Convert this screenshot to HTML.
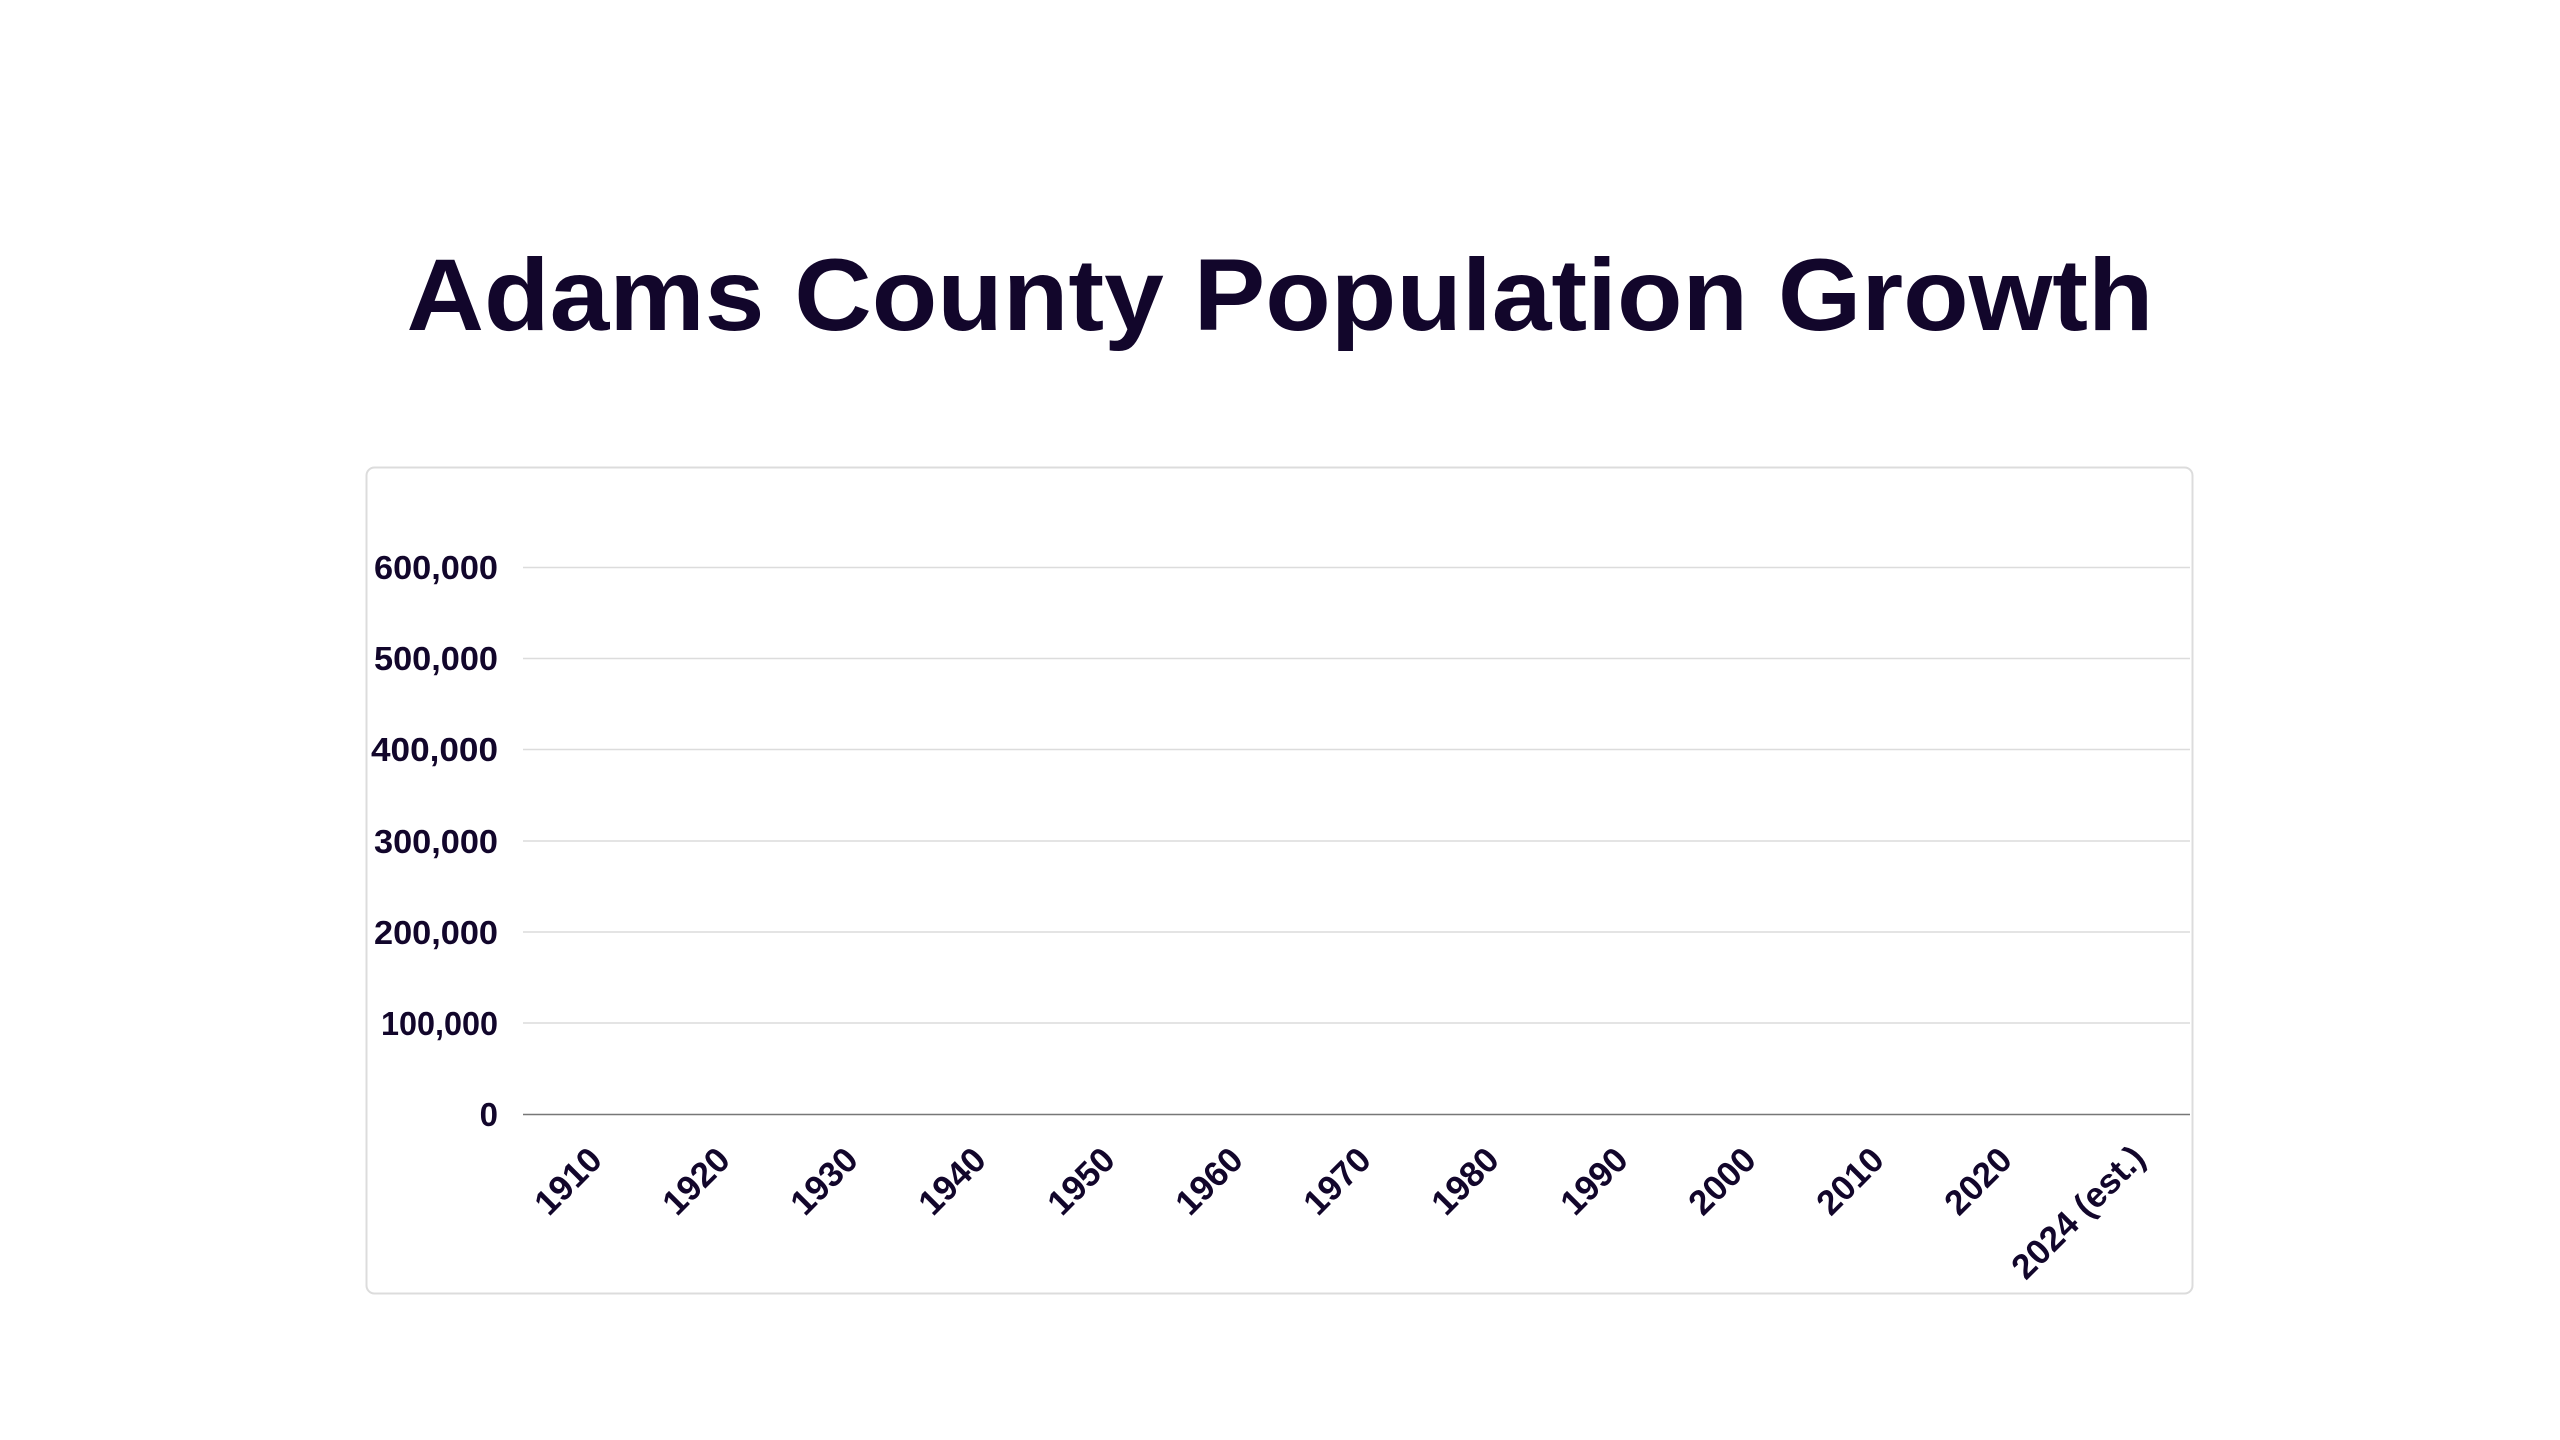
<!DOCTYPE html>
<html><head><meta charset="utf-8"><style>
html,body{margin:0;padding:0;background:#fff;}
svg{display:block;}
</style></head><body>
<svg width="2560" height="1440" viewBox="0 0 2560 1440" xmlns="http://www.w3.org/2000/svg">
<rect width="2560" height="1440" fill="#fff"/>
<text x="1280" y="330" text-anchor="middle" font-family="Liberation Sans, sans-serif" font-weight="bold" font-size="102" fill="#12062b" textLength="1747" lengthAdjust="spacingAndGlyphs">Adams County Population Growth</text>
<rect x="366.5" y="467.5" width="1826" height="826" rx="8" ry="8" fill="#fff" stroke="#dcdcdc" stroke-width="2"/>
<g stroke="#dcdcdc" stroke-width="1.5">
<line x1="523" x2="2190" y1="567.5" y2="567.5"/>
<line x1="523" x2="2190" y1="658.5" y2="658.5"/>
<line x1="523" x2="2190" y1="749.5" y2="749.5"/>
<line x1="523" x2="2190" y1="841" y2="841"/>
<line x1="523" x2="2190" y1="932" y2="932"/>
<line x1="523" x2="2190" y1="1023" y2="1023"/>
</g>
<line x1="523" x2="2190" y1="1114.5" y2="1114.5" stroke="#777" stroke-width="1.5"/>
<g font-family="Liberation Sans, sans-serif" font-weight="bold" font-size="33" fill="#12062b" text-anchor="end">
<text x="498" y="579" textLength="124" lengthAdjust="spacingAndGlyphs">600,000</text>
<text x="498" y="670" textLength="124" lengthAdjust="spacingAndGlyphs">500,000</text>
<text x="498" y="761" textLength="127" lengthAdjust="spacingAndGlyphs">400,000</text>
<text x="498" y="853" textLength="124" lengthAdjust="spacingAndGlyphs">300,000</text>
<text x="498" y="944" textLength="124" lengthAdjust="spacingAndGlyphs">200,000</text>
<text x="498" y="1035" textLength="117" lengthAdjust="spacingAndGlyphs">100,000</text>
<text x="498" y="1126">0</text>
</g>
<g font-family="Liberation Sans, sans-serif" font-weight="bold" font-size="35" fill="#12062b" text-anchor="end">
<text transform="translate(604,1162) rotate(-45)">1910</text>
<text transform="translate(732,1162) rotate(-45)">1920</text>
<text transform="translate(860,1162) rotate(-45)">1930</text>
<text transform="translate(988,1162) rotate(-45)">1940</text>
<text transform="translate(1117,1162) rotate(-45)">1950</text>
<text transform="translate(1245,1162) rotate(-45)">1960</text>
<text transform="translate(1373,1162) rotate(-45)">1970</text>
<text transform="translate(1501,1162) rotate(-45)">1980</text>
<text transform="translate(1630,1162) rotate(-45)">1990</text>
<text transform="translate(1758,1162) rotate(-45)">2000</text>
<text transform="translate(1886,1162) rotate(-45)">2010</text>
<text transform="translate(2014,1162) rotate(-45)">2020</text>
<text transform="translate(2147,1160) rotate(-45)">2024 (est.)</text>
</g>
</svg>
</body></html>
